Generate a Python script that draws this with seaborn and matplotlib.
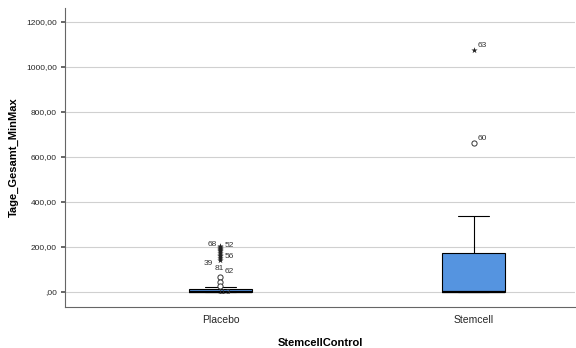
import matplotlib
matplotlib.use("Agg")
import matplotlib.pyplot as plt
import seaborn as sns
import pandas as pd
from matplotlib.ticker import FuncFormatter

sns.set_theme(style="white")
plt.rcParams['font.family'] = ['Liberation Sans', 'DejaVu Sans']

# Gruppen und Kernwerte (ohne Ausreißer)
gruppen = ['Placebo', 'Stemcell']
placebo_kern = [0, 0, 0, 0, 0, 5, 13, 18, 22]
stemcell_kern = [0, 0, 0, 0, 0, 60, 173, 260, 338]

# Ausreißer: (Gruppe, Wert, Typ, Fallnummer)
ausreisser_gruppe = ['Placebo'] * 14 + ['Stemcell'] * 2
ausreisser_wert = [205, 200, 195, 190, 185, 180, 172, 165, 158, 150, 143,
                   65, 42, 28, 662, 1075]
ausreisser_typ = ['extrem'] * 11 + ['mild'] * 3 + ['mild', 'extrem']
ausreisser_label = ['68', '52', '', '', '', '', '', '56', '', '39', '',
                    '81', '62', '113', '60', '63']

df = pd.DataFrame({
    'StemcellControl': ['Placebo'] * len(placebo_kern) + ['Stemcell'] * len(stemcell_kern),
    'Tage_Gesamt_MinMax': placebo_kern + stemcell_kern,
})
df_out = pd.DataFrame({
    'StemcellControl': ausreisser_gruppe,
    'Tage_Gesamt_MinMax': ausreisser_wert,
    'typ': ausreisser_typ,
    'label': ausreisser_label,
})

fig = plt.figure(figsize=(5.76, 3.48), dpi=100)
ax = fig.add_axes([0.113, 0.118, 0.885, 0.859])

ax.yaxis.grid(True, color='#d0d0d0', linewidth=0.8)
ax.set_axisbelow(True)

sns.boxplot(
    data=df, x='StemcellControl', y='Tage_Gesamt_MinMax', order=gruppen,
    color='#5594e0', saturation=1, width=0.25, whis=(0, 100), showfliers=False,
    linecolor='black', linewidth=0.8,
    medianprops={'linewidth': 1.6, 'color': 'black'},
    ax=ax,
)

pos = {g: i for i, g in enumerate(gruppen)}
mild = df_out[df_out['typ'] == 'mild']
extrem = df_out[df_out['typ'] == 'extrem']
ax.scatter(mild['StemcellControl'].map(pos), mild['Tage_Gesamt_MinMax'],
           marker='o', s=14, facecolors='white', edgecolors='#333333', linewidths=0.7, zorder=5)
ax.scatter(extrem['StemcellControl'].map(pos), extrem['Tage_Gesamt_MinMax'],
           marker='*', s=22, color='#222222', linewidths=0, zorder=5)

# Beschriftungen der Fälle
versatz = {'68': (-9, 1), '52': (3, 1), '56': (3, -1), '39': (-12, -4),
           '81': (-4, 6), '62': (3, 8), '113': (-2, -5), '60': (3, 3), '63': (3, 3)}
for _, r in df_out.iterrows():
    if r['label']:
        dx, dy = versatz[r['label']]
        ax.annotate(r['label'], (pos[r['StemcellControl']], r['Tage_Gesamt_MinMax']),
                    xytext=(dx, dy), textcoords='offset points', fontsize=6,
                    color='#333333', va='center', ha='left', zorder=6)

ax.set_xlim(-0.614, 1.40)
ax.set_ylim(-67, 1262)
ax.set_yticks([0, 200, 400, 600, 800, 1000, 1200])
ax.yaxis.set_major_formatter(FuncFormatter(
    lambda v, p: ',00' if v == 0 else f'{int(v)},00'))
ax.tick_params(axis='y', labelsize=6, length=3, color='#555555', left=True, pad=3)
ax.tick_params(axis='x', labelsize=7.5, length=0, pad=6)

for s in ['top', 'right']:
    ax.spines[s].set_visible(False)
for s in ['left', 'bottom']:
    ax.spines[s].set_color('#666666')
    ax.spines[s].set_linewidth(0.8)

ax.set_xlabel('StemcellControl', fontsize=8, fontweight='bold', labelpad=9, color='black')
ax.set_ylabel('Tage_Gesamt_MinMax', fontsize=8, fontweight='bold', labelpad=5, color='black')

fig.savefig('out.png', dpi=100)
